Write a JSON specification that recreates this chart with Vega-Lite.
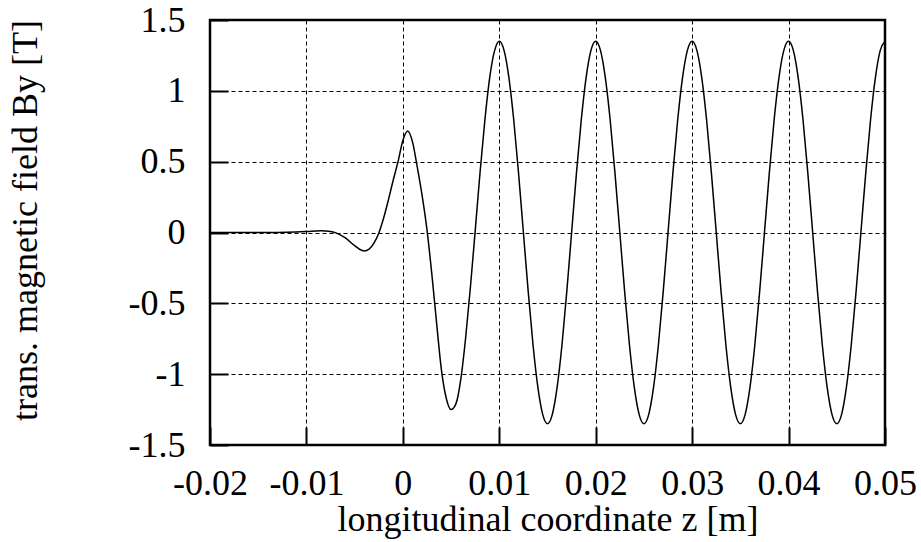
{"$schema":"https://vega.github.io/schema/vega-lite/v6.json","width":675,"height":425,"autosize":{"type":"none"},"padding":{"left":210,"top":20,"right":36,"bottom":97},"background":"white",
"config":{"view":{"stroke":"#000000","strokeWidth":2.5},"font":"Times New Roman","axis":{"labelFont":"Times New Roman","titleFont":"Times New Roman","labelFontSize":36,"titleFontSize":36,"titleFontWeight":"normal","labelColor":"#000000","titleColor":"#000000","ticks":true,"tickColor":"#000000","tickOpacity":1,"tickWidth":2,"tickSize":-18,"domain":false,"labelFlush":false,"labelOverlap":false,"gridColor":"#000000","gridOpacity":1,"gridWidth":1,"gridDash":[4,3]}},
"data":{"values":[
{"z":-0.02,"b":0},{"z":-0.014,"b":0},{"z":-0.012,"b":0.002},{"z":-0.01,"b":0.007},{"z":-0.0085,"b":0.012},{"z":-0.0075,"b":0.007},{"z":-0.007,"b":-0.001},{"z":-0.006,"b":-0.037},{"z":-0.005,"b":-0.093},{"z":-0.0045,"b":-0.118},{"z":-0.004,"b":-0.13},{"z":-0.0035,"b":-0.118},{"z":-0.003,"b":-0.075},{"z":-0.0025,"b":-0.005},{"z":-0.002,"b":0.1},{"z":-0.0015,"b":0.23},{"z":-0.001,"b":0.37},{"z":-0.0005,"b":0.5},{"z":0,"b":0.65},{"z":0.0005,"b":0.717},{"z":0.001,"b":0.64},{"z":0.0015,"b":0.46},{"z":0.002,"b":0.26},{"z":0.0025,"b":0.02},{"z":0.003,"b":-0.29},{"z":0.0035,"b":-0.64},{"z":0.004,"b":-0.97},{"z":0.0045,"b":-1.17},{"z":0.005,"b":-1.25},{"z":0.0055,"b":-1.21},{"z":0.006,"b":-1.04},{"z":0.0065,"b":-0.75},{"z":0.007,"b":-0.39},{"z":0.0075,"b":0.01},{"z":0.008,"b":0.42},{"z":0.0085,"b":0.79},{"z":0.009,"b":1.09},{"z":0.0095,"b":1.28},
{"z":0.01,"b":1.35},{"z":0.0105,"b":1.284},{"z":0.011,"b":1.092},{"z":0.0115,"b":0.794},{"z":0.012,"b":0.417},{"z":0.0125,"b":0},{"z":0.013,"b":-0.417},{"z":0.0135,"b":-0.794},{"z":0.014,"b":-1.092},{"z":0.0145,"b":-1.284},{"z":0.015,"b":-1.35},{"z":0.0155,"b":-1.284},{"z":0.016,"b":-1.092},{"z":0.0165,"b":-0.794},{"z":0.017,"b":-0.417},{"z":0.0175,"b":0},{"z":0.018,"b":0.417},{"z":0.0185,"b":0.794},{"z":0.019,"b":1.092},{"z":0.0195,"b":1.284},
{"z":0.02,"b":1.35},{"z":0.0205,"b":1.284},{"z":0.021,"b":1.092},{"z":0.0215,"b":0.794},{"z":0.022,"b":0.417},{"z":0.0225,"b":0},{"z":0.023,"b":-0.417},{"z":0.0235,"b":-0.794},{"z":0.024,"b":-1.092},{"z":0.0245,"b":-1.284},{"z":0.025,"b":-1.35},{"z":0.0255,"b":-1.284},{"z":0.026,"b":-1.092},{"z":0.0265,"b":-0.794},{"z":0.027,"b":-0.417},{"z":0.0275,"b":0},{"z":0.028,"b":0.417},{"z":0.0285,"b":0.794},{"z":0.029,"b":1.092},{"z":0.0295,"b":1.284},
{"z":0.03,"b":1.35},{"z":0.0305,"b":1.284},{"z":0.031,"b":1.092},{"z":0.0315,"b":0.794},{"z":0.032,"b":0.417},{"z":0.0325,"b":0},{"z":0.033,"b":-0.417},{"z":0.0335,"b":-0.794},{"z":0.034,"b":-1.092},{"z":0.0345,"b":-1.284},{"z":0.035,"b":-1.35},{"z":0.0355,"b":-1.284},{"z":0.036,"b":-1.092},{"z":0.0365,"b":-0.794},{"z":0.037,"b":-0.417},{"z":0.0375,"b":0},{"z":0.038,"b":0.417},{"z":0.0385,"b":0.794},{"z":0.039,"b":1.092},{"z":0.0395,"b":1.284},
{"z":0.04,"b":1.35},{"z":0.0405,"b":1.284},{"z":0.041,"b":1.092},{"z":0.0415,"b":0.794},{"z":0.042,"b":0.417},{"z":0.0425,"b":0},{"z":0.043,"b":-0.417},{"z":0.0435,"b":-0.794},{"z":0.044,"b":-1.092},{"z":0.0445,"b":-1.284},{"z":0.045,"b":-1.35},{"z":0.0455,"b":-1.284},{"z":0.046,"b":-1.092},{"z":0.0465,"b":-0.794},{"z":0.047,"b":-0.417},{"z":0.0475,"b":0},{"z":0.048,"b":0.417},{"z":0.0485,"b":0.794},{"z":0.049,"b":1.092},{"z":0.0495,"b":1.284},{"z":0.05,"b":1.35}]},
"mark":{"type":"line","color":"#000000","strokeWidth":1.5,"interpolate":"monotone","clip":true},
"encoding":{
"x":{"field":"z","type":"quantitative","scale":{"domain":[-0.02,0.05],"nice":false,"zero":false},"axis":{"values":[-0.02,-0.01,0,0.01,0.02,0.03,0.04,0.05],"labelExpr":"(datum.value < 0 ? '-' : '') + format(abs(datum.value), '~g')","labelFont":"Times New Roman","labelPadding":39.6,"labelBaseline":"top","grid":true,"ticks":true,"tickSize":-18,"tickColor":"#000000","tickWidth":2,"title":"longitudinal coordinate z [m]","titleFont":"Times New Roman","titleX":337.5,"titleY":85,"titleBaseline":"alphabetic","titleAlign":"center"}},
"y":{"field":"b","type":"quantitative","scale":{"domain":[-1.5,1.5],"nice":false,"zero":false},"axis":{"values":[-1.5,-1,-0.5,0,0.5,1,1.5],"labelExpr":"(datum.value < 0 ? '-' : '') + format(abs(datum.value), '~g')","labelFont":"Times New Roman","labelPadding":43,"labelAlign":"right","labelBaseline":"middle","grid":true,"ticks":true,"tickSize":-18,"tickColor":"#000000","tickWidth":2,"title":"trans. magnetic field By [T]","titleFont":"Times New Roman","titleAngle":-90,"titleX":-174,"titleY":200,"titleBaseline":"alphabetic","titleAlign":"center"}}}}
